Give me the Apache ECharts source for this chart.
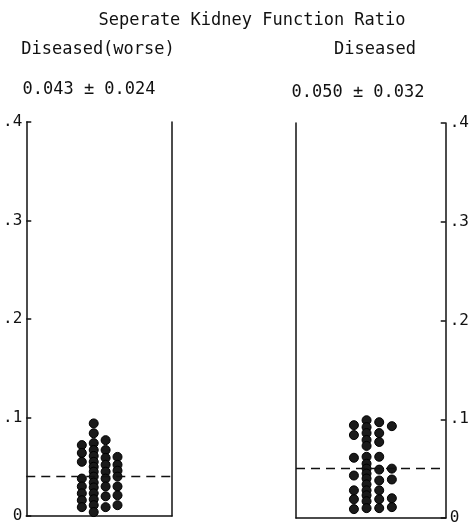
<!DOCTYPE html>
<html><head><meta charset="utf-8">
<script src="https://cdn.jsdelivr.net/npm/echarts@6/dist/echarts.min.js"></script>
<style>html,body{margin:0;padding:0;background:#fff}#c{width:472px;height:531px}</style>
</head><body><div id="c"></div>
<script>
const titleText = 'Seperate Kidney Function Ratio';
const panelNames = ['Diseased(worse)', 'Diseased'];
const panelStats = ['0.043 \u00b1 0.024', '0.050 \u00b1 0.032'];
const means = [0.043, 0.050];
const yTicks = [0, 0.1, 0.2, 0.3, 0.4];
const tickLabels = ['0', '.1', '.2', '.3', '.4'];

// dot values per column (1..4) for each panel
const leftCol1 = [0.072, 0.064, 0.055, 0.038, 0.030, 0.023, 0.016, 0.009];
const leftCol2 = [0.094, 0.084, 0.074, 0.067, 0.061, 0.055, 0.050, 0.045, 0.040, 0.034, 0.029, 0.023, 0.017, 0.011, 0.004];
const leftCol3 = [0.077, 0.067, 0.059, 0.052, 0.045, 0.038, 0.030, 0.020, 0.009];
const leftCol4 = [0.060, 0.052, 0.046, 0.040, 0.030, 0.021, 0.011];

const rightCol1 = [0.094, 0.084, 0.061, 0.043, 0.028, 0.019, 0.009];
const rightCol2 = [0.099, 0.092, 0.086, 0.079, 0.073, 0.062, 0.055, 0.050, 0.045, 0.040, 0.034, 0.028, 0.023, 0.017, 0.010];
const rightCol3 = [0.097, 0.086, 0.077, 0.062, 0.049, 0.038, 0.028, 0.019, 0.010];
const rightCol4 = [0.093, 0.050, 0.039, 0.020, 0.011];

function toPoints(cols) {
  const out = [];
  cols.forEach((arr, i) => arr.forEach(v => out.push([i + 1, v])));
  return out;
}
const leftPts = toPoints([leftCol1, leftCol2, leftCol3, leftCol4]);
const rightPts = toPoints([rightCol1, rightCol2, rightCol3, rightCol4]);

const FONT = 'DejaVu Sans Mono';
const fmt = v => { const i = yTicks.findIndex(t => Math.abs(t - v) < 1e-9); return i >= 0 ? tickLabels[i] : ''; };
const lineS = { color: '#111', width: 1.5 };

function xAx(gi, min, max) {
  return { type: 'value', gridIndex: gi, min: min, max: max, axisLine: { show: true, onZero: false, lineStyle: lineS },
    axisTick: { show: false }, axisLabel: { show: false }, splitLine: { show: false } };
}
function yAxLabeled(gi, pos) {
  return { type: 'value', gridIndex: gi, position: pos, min: 0, max: 0.4, interval: 0.1,
    axisLine: { show: true, onZero: false, lineStyle: lineS },
    axisTick: { show: true, inside: true, length: 5, lineStyle: lineS },
    axisLabel: { show: true, formatter: fmt, fontFamily: FONT, fontSize: 16, color: '#111', margin: 4 },
    splitLine: { show: false } };
}
function yAxPlain(gi, pos) {
  return { type: 'value', gridIndex: gi, position: pos, min: 0, max: 0.4, interval: 0.1,
    axisLine: { show: true, onZero: false, lineStyle: lineS },
    axisTick: { show: false }, axisLabel: { show: false }, splitLine: { show: false } };
}
function dots(xi, yi, pts, mean) {
  return { type: 'scatter', xAxisIndex: xi, yAxisIndex: yi, data: pts, symbol: 'circle', symbolSize: 9,
    itemStyle: { color: '#1a1a1a', borderColor: '#000', borderWidth: 1, opacity: 1 }, silent: true,
    markLine: { silent: true, symbol: 'none', label: { show: false },
      lineStyle: { color: '#111', type: [9, 6], width: 1.3 }, data: [{ yAxis: mean }] } };
}

const chart = echarts.init(document.getElementById('c'), null, { renderer: 'canvas' });
chart.setOption({
  animation: false,
  backgroundColor: '#fff',
  grid: [
    { left: 25, top: 122, width: 147, height: 394 },
    { left: 296, top: 123, width: 150, height: 395 }
  ],
  xAxis: [xAx(0, -3.67, 8.58), xAx(1, -3.58, 8.26)],
  yAxis: [yAxLabeled(0, 'left'), yAxPlain(0, 'right'), yAxPlain(1, 'left'), yAxLabeled(1, 'right')],
  series: [dots(0, 0, leftPts, means[0]), dots(1, 3, rightPts, means[1])],
  graphic: [
    { type: 'text', x: 252, y: 21, style: { text: titleText, font: '17px "' + FONT + '"', fill: '#111', align: 'center', verticalAlign: 'middle' } },
    { type: 'text', x: 98, y: 50, style: { text: panelNames[0], font: '17px "' + FONT + '"', fill: '#111', align: 'center', verticalAlign: 'middle' } },
    { type: 'text', x: 375, y: 50, style: { text: panelNames[1], font: '17px "' + FONT + '"', fill: '#111', align: 'center', verticalAlign: 'middle' } },
    { type: 'text', x: 89, y: 90, style: { text: panelStats[0], font: '17px "' + FONT + '"', fill: '#111', align: 'center', verticalAlign: 'middle' } },
    { type: 'text', x: 358, y: 93, style: { text: panelStats[1], font: '17px "' + FONT + '"', fill: '#111', align: 'center', verticalAlign: 'middle' } }
  ]
});
</script></body></html>
